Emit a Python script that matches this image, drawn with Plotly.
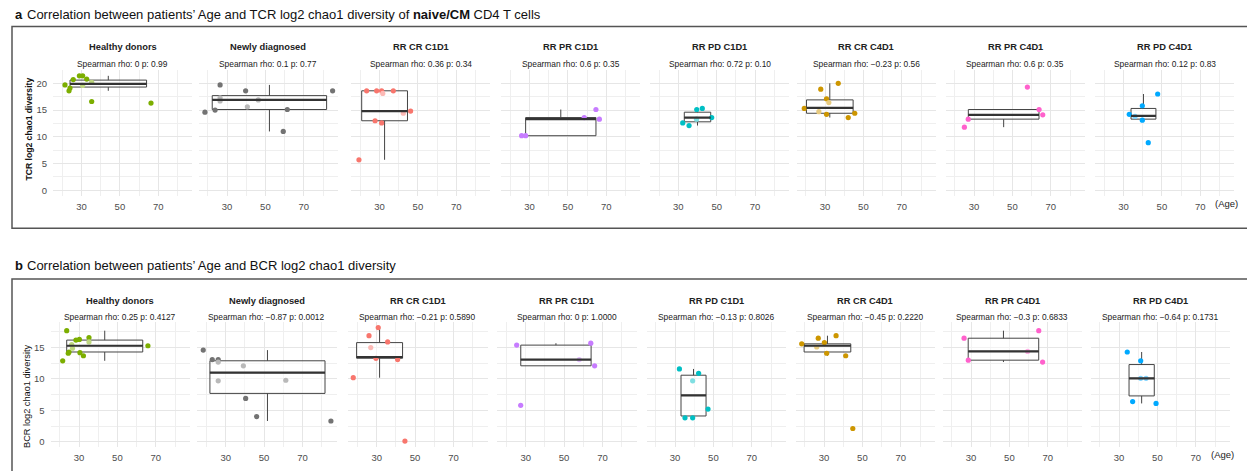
import plotly.graph_objects as go

W, H = 1247, 471
FONT = "Liberation Sans, Arial, Helvetica, sans-serif"

groups = ["Healthy donors", "Newly diagnosed", "RR CR C1D1", "RR PR C1D1",
          "RR PD C1D1", "RR CR C4D1", "RR PR C4D1", "RR PD C4D1"]
colors = ["#7CAE00", "#737373", "#F8766D", "#C77CFF",
          "#00BFC4", "#CD9600", "#FF61CC", "#00A9FF"]

# ---------------- panel a: TCR (naive/CM CD4 T cells) ----------------
tcr_rho = ["0", "0.1", "0.36", "0.6", "0.72", "\u22120.23", "0.6", "0.12"]
tcr_p = ["0.99", "0.77", "0.34", "0.35", "0.10", "0.56", "0.35", "0.83"]
tcr_age = [
    [21.4, 23.5, 24.0, 25.7, 28.9, 30.6, 32.7, 30.6, 35.3, 35.3, 66.2],
    [18.5, 23.8, 26.4, 26.4, 26.4, 39.7, 40.6, 46.3, 59.3, 61.4, 85.0],
    [19.3, 23.3, 27.7, 28.5, 31.1, 31.7, 31.1, 37.2, 42.4, 46.2],
    [25.9, 28.0, 58.5, 64.6, 66.4],
    [32.3, 35.6, 39.6, 42.5, 47.4, 39.5],
    [19.2, 27.8, 26.8, 30.8, 32.0, 30.8, 36.9, 42.1, 45.5],
    [25.0, 27.0, 57.8, 63.9, 65.8],
    [33.0, 36.0, 39.8, 39.8, 42.9, 47.8],
]
tcr_val = [
    [19.7, 18.6, 19.1, 20.7, 21.4, 21.4, 20.8, 19.6, 20.2, 16.6, 16.3],
    [14.6, 15.0, 19.7, 17.3, 16.7, 18.6, 15.6, 16.9, 11.0, 15.1, 18.6],
    [5.7, 18.6, 13.0, 18.6, 18.6, 18.1, 12.6, 18.6, 14.4, 14.8],
    [10.2, 10.2, 13.6, 15.1, 13.3],
    [12.6, 12.1, 15.1, 15.3, 13.6, 13.3],
    [15.3, 18.9, 14.7, 17.1, 16.4, 14.2, 20.0, 13.6, 14.4],
    [11.8, 13.3, 19.3, 15.1, 14.1],
    [14.2, 13.8, 15.8, 13.1, 8.9, 18.0],
]
tcr_q1 = [19.3, 15.1, 13.0, 10.2, 12.8, 14.4, 13.3, 13.3]
tcr_med = [19.9, 16.9, 14.8, 13.3, 13.6, 15.4, 14.1, 13.9]
tcr_q3 = [20.6, 17.7, 18.6, 13.6, 14.6, 16.9, 15.1, 15.3]
tcr_lo = [18.6, 11.0, 5.7, 10.2, 12.1, 13.6, 11.8, 13.1]
tcr_hi = [21.4, 19.7, 18.6, 15.1, 15.3, 20.0, 15.1, 18.0]
tcr_amin = [21.8, 19.0, 19.4, 25.95, 32.35, 19.0, 25.0, 33.2]
tcr_amax = [66.1, 85.2, 45.9, 66.65, 47.65, 46.0, 65.9, 47.6]

# ---------------- panel b: BCR ----------------
bcr_rho = ["0.25", "\u22120.87", "\u22120.21", "0", "\u22120.13", "\u22120.45", "\u22120.3", "\u22120.64"]
bcr_p = ["0.4127", "0.0012", "0.5890", "1.0000", "0.8026", "0.2220", "0.6833", "0.1731"]
bcr_age = [
    [21.5, 23.6, 24.4, 24.8, 26.2, 26.6, 28.4, 30.2, 30.5, 32.3, 35.2, 35.2, 65.9],
    [18.3, 23.0, 26.1, 26.1, 26.1, 39.2, 40.4, 46.1, 61.3, 84.8],
    [17.8, 26.0, 26.9, 29.6, 30.8, 35.7, 40.9, 44.7],
    [25.3, 27.4, 57.9, 63.9, 65.9],
    [32.3, 35.2, 39.2, 39.2, 42.3, 47.2],
    [18.4, 27.0, 26.2, 30.2, 31.4, 36.3, 41.3, 45.0],
    [26.4, 28.6, 59.5, 65.3, 67.3],
    [34.3, 41.3, 41.3, 44.1, 37.1, 49.3],
]
bcr_val = [
    [12.9, 17.7, 14.1, 14.3, 15.5, 14.9, 16.2, 16.3, 14.2, 13.7, 16.6, 15.9, 15.3],
    [14.6, 13.1, 13.1, 12.7, 9.7, 12.1, 6.9, 4.0, 9.8, 3.3],
    [10.2, 16.9, 15.0, 13.3, 18.2, 15.9, 13.1, 0.1],
    [15.4, 5.8, 13.1, 15.7, 12.1],
    [11.6, 3.8, 9.7, 3.8, 10.9, 5.2],
    [15.6, 16.5, 15.1, 15.8, 14.1, 16.9, 13.7, 2.1],
    [16.5, 13.0, 14.4, 17.7, 12.7],
    [14.3, 12.9, 10.1, 10.1, 6.4, 6.1],
]
bcr_q1 = [14.3, 7.7, 13.3, 12.1, 4.1, 14.3, 13.0, 7.3]
bcr_med = [15.3, 11.0, 13.5, 13.1, 7.4, 15.3, 14.4, 10.1]
bcr_q3 = [16.2, 12.9, 15.8, 15.4, 10.6, 15.6, 16.5, 12.3]
bcr_lo = [12.9, 3.3, 10.2, 12.1, 3.8, 13.7, 12.7, 6.1]
bcr_hi = [17.7, 14.6, 18.1, 15.7, 11.6, 16.9, 17.7, 14.3]
bcr_amin = [21.4, 18.45, 18.2, 25.4, 32.4, 18.3, 26.5, 34.5]
bcr_amax = [65.4, 85.05, 44.8, 66.1, 46.9, 45.3, 67.3, 49.1]

x_range = [15.2, 87.8]
PXU = 1.92  # px per year of age

rows = [
    dict(age=tcr_age, val=tcr_val, q1=tcr_q1, med=tcr_med, q3=tcr_q3, lo=tcr_lo, hi=tcr_hi,
         amin=tcr_amin, amax=tcr_amax, rho=tcr_rho, p=tcr_p,
         t30=[81.5, 227.0, 379.5, 529.5, 678.3, 825.0, 974.0, 1123.5],
         ytop=70.1, ybot=196.0, yr=[-1.07, 22.47], title_y=47.3, sub_y=64.2,
         ytitle="<b>TCR log2 chao1 diversity</b>", ytitle_x=28, ytitle_y=129.5, ytitle_size=8.6,
         age_y=203.5, age_x=1226),
    dict(age=bcr_age, val=bcr_val, q1=bcr_q1, med=bcr_med, q3=bcr_q3, lo=bcr_lo, hi=bcr_hi,
         amin=bcr_amin, amax=bcr_amax, rho=bcr_rho, p=bcr_p,
         t30=[79.0, 225.7, 376.7, 525.7, 675.0, 824.0, 971.0, 1119.0],
         ytop=321.9, ybot=447.4, yr=[-0.91, 19.1], title_y=301, sub_y=317.2,
         ytitle="BCR log2 chao1 diversity", ytitle_x=27, ytitle_y=396, ytitle_size=9.2,
         age_y=454.5, age_x=1222.5),
]


def fx(px):
    return px / W


def fy(py):
    return 1 - py / H


def lighten(hexc, f):
    h = hexc.lstrip("#")
    r, g, b = (int(h[i:i + 2], 16) for i in (0, 2, 4))
    r, g, b = (round(c + (255 - c) * f) for c in (r, g, b))
    return f"rgb({r},{g},{b})"


fig = go.Figure()
layout = dict(width=W, height=H, margin=dict(l=0, r=0, t=0, b=0), autosize=False,
              showlegend=False, plot_bgcolor="white", paper_bgcolor="white",
              font=dict(family=FONT, color="#222"), hovermode=False)
annotations = []
shapes = []

for r, row in enumerate(rows):
    for k in range(8):
        idx = r * 8 + k + 1
        xa = "xaxis" if idx == 1 else f"xaxis{idx}"
        ya = "yaxis" if idx == 1 else f"yaxis{idx}"
        xr = "x" if idx == 1 else f"x{idx}"
        yr_ = "y" if idx == 1 else f"y{idx}"
        t30 = row["t30"][k]
        left = t30 - PXU * (30 - x_range[0])
        right = t30 + PXU * (x_range[1] - 30)
        layout[xa] = dict(domain=[fx(left), fx(right)], range=x_range, anchor=yr_,
                          tick0=30, dtick=20, showgrid=True, gridcolor="#e6e6e6", gridwidth=1,
                          minor=dict(tick0=20, dtick=10, showgrid=True, gridcolor="#efefef", gridwidth=0.6),
                          zeroline=False, showline=False, ticks="", ticklabelstandoff=3,
                          tickfont=dict(size=9.5, color="#4d4d4d", family=FONT), fixedrange=True)
        layout[ya] = dict(domain=[fy(row["ybot"]), fy(row["ytop"])], range=row["yr"], anchor=xr,
                          tick0=0, dtick=5, showgrid=True, gridcolor="#e6e6e6", gridwidth=1,
                          minor=dict(tick0=0, dtick=2.5, showgrid=True, gridcolor="#efefef", gridwidth=0.6),
                          zeroline=False, showline=False, ticks="", ticklabelstandoff=5,
                          showticklabels=(k == 0),
                          tickfont=dict(size=9.5, color="#4d4d4d", family=FONT), fixedrange=True)

        q1, med, q3 = row["q1"][k], row["med"][k], row["q3"][k]
        amin, amax = row["amin"][k], row["amax"][k]
        center = (amin + amax) / 2
        width = 0.9 * (amax - amin)

        fig.add_trace(go.Box(x=[center], q1=[q1], median=[med], q3=[q3],
                             lowerfence=[row["lo"][k]], upperfence=[row["hi"][k]],
                             width=width, whiskerwidth=0, boxpoints=False,
                             line=dict(color="#444444", width=1),
                             fillcolor="rgba(255,255,255,0.5)",
                             xaxis=xr, yaxis=yr_, hoverinfo="skip"))

        ages, vals = row["age"][k], row["val"][k]
        cols = []
        for a, v in zip(ages, vals):
            inside = (abs(a - center) < width / 2 - 0.8) and (q1 + 0.2 < v < q3 - 0.2)
            cols.append(lighten(colors[k], 0.5) if inside else colors[k])
        fig.add_trace(go.Scatter(x=ages, y=vals, mode="markers",
                                 marker=dict(size=5.2, color=cols, line=dict(width=0)),
                                 xaxis=xr, yaxis=yr_, hoverinfo="skip"))
        fig.add_trace(go.Scatter(x=[center - width / 2, center + width / 2], y=[med, med],
                                 mode="lines", line=dict(color="#333333", width=2.2),
                                 xaxis=xr, yaxis=yr_, hoverinfo="skip"))

        cx = fx((left + right) / 2)
        annotations.append(dict(x=cx, y=fy(row["title_y"]), xref="paper", yref="paper",
                                text=f"<b>{groups[k]}</b>", showarrow=False,
                                xanchor="center", yanchor="middle",
                                font=dict(size=9.3, color="#222", family=FONT)))
        annotations.append(dict(x=cx, y=fy(row["sub_y"]), xref="paper", yref="paper",
                                text=f"Spearman rho: {row['rho'][k]} p: {row['p'][k]}",
                                showarrow=False, xanchor="center", yanchor="middle",
                                font=dict(size=8.4, color="#222", family=FONT)))

    annotations.append(dict(x=fx(row["ytitle_x"]), y=fy(row["ytitle_y"]), xref="paper", yref="paper",
                            text=row["ytitle"], showarrow=False, textangle=-90,
                            xanchor="center", yanchor="middle",
                            font=dict(size=row["ytitle_size"], color="#111", family=FONT)))
    annotations.append(dict(x=fx(row["age_x"]), y=fy(row["age_y"]), xref="paper", yref="paper",
                            text="(Age)", showarrow=False, xanchor="center", yanchor="middle",
                            font=dict(size=9.5, color="#222", family=FONT)))

# panel headers
annotations += [
    dict(x=fx(12.5), y=fy(14.5), xref="paper", yref="paper", text="<b>a</b>", showarrow=False,
         xanchor="left", yanchor="middle", font=dict(size=13, color="#111", family=FONT)),
    dict(x=fx(25), y=fy(14.5), xref="paper", yref="paper",
         text="Correlation between patients\u2019 Age and TCR log2 chao1 diversity of <b>naive/CM</b> CD4 T cells",
         showarrow=False, xanchor="left", yanchor="middle", font=dict(size=13, color="#111", family=FONT)),
    dict(x=fx(12.5), y=fy(265), xref="paper", yref="paper", text="<b>b</b>", showarrow=False,
         xanchor="left", yanchor="middle", font=dict(size=13, color="#111", family=FONT)),
    dict(x=fx(25), y=fy(265), xref="paper", yref="paper",
         text="Correlation between patients\u2019 Age and BCR log2 chao1 diversity",
         showarrow=False, xanchor="left", yanchor="middle", font=dict(size=13, color="#111", family=FONT)),
]

shapes += [
    dict(type="rect", xref="paper", yref="paper", x0=fx(12), x1=fx(1252), y0=fy(228.3), y1=fy(26.5),
         line=dict(color="#555555", width=1.5), fillcolor="rgba(0,0,0,0)", layer="above"),
    dict(type="rect", xref="paper", yref="paper", x0=fx(12), x1=fx(1252), y0=fy(490), y1=fy(279),
         line=dict(color="#555555", width=1.5), fillcolor="rgba(0,0,0,0)", layer="above"),
]

layout["annotations"] = annotations
layout["shapes"] = shapes
fig.update_layout(**layout)
fig.write_html("out.html")
